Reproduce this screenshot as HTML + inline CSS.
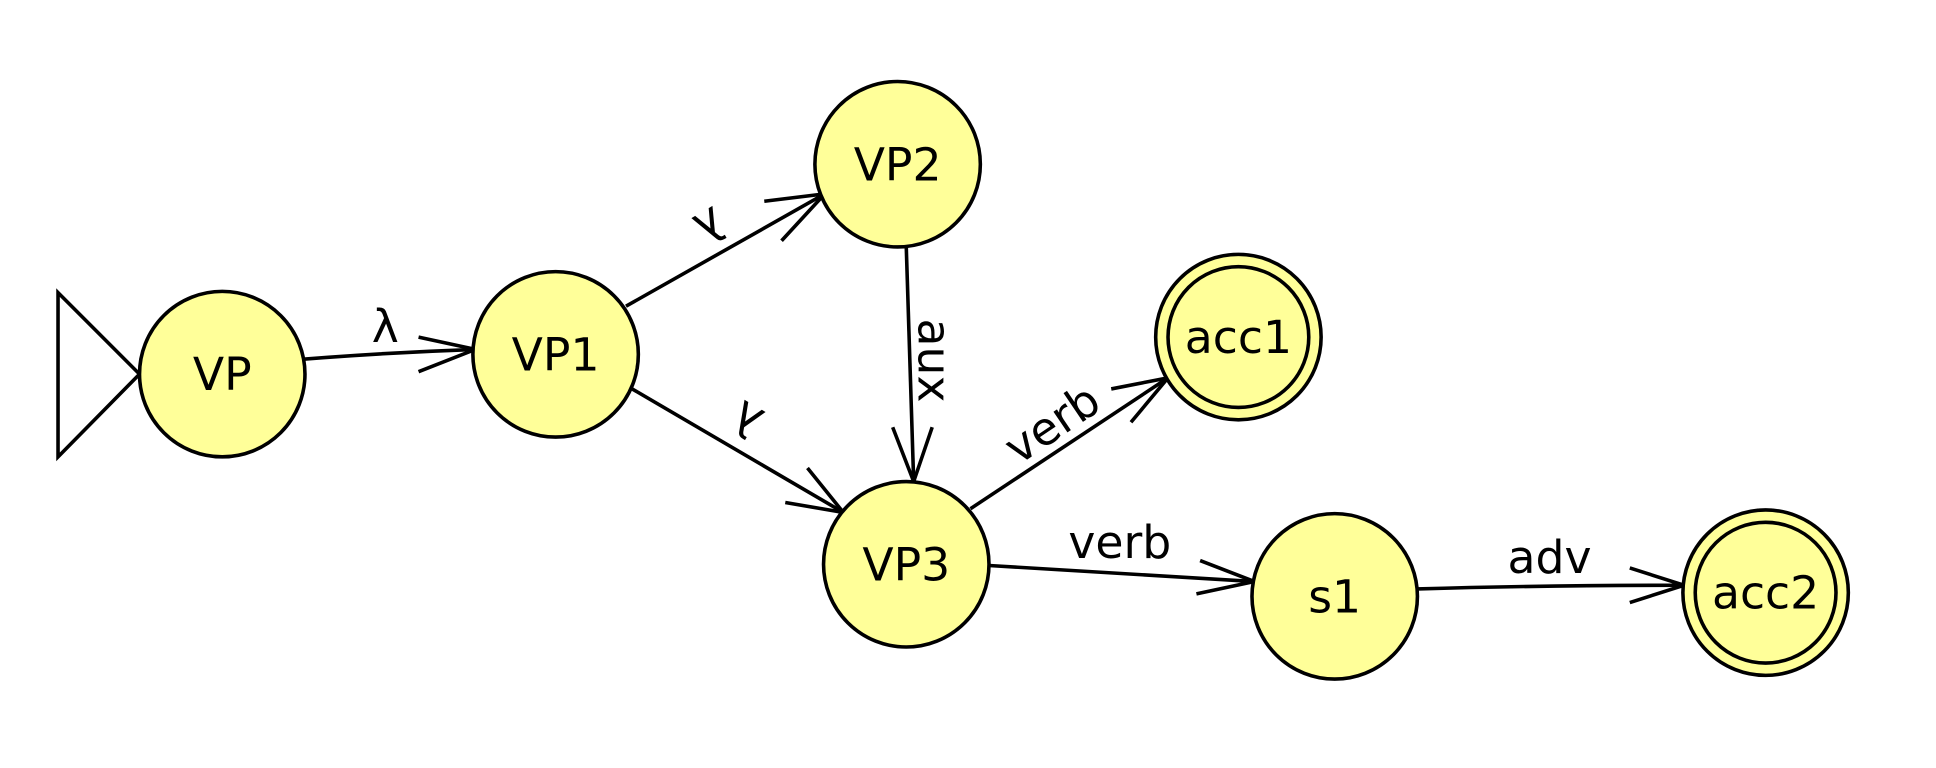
<!DOCTYPE html>
<html><head><style>html,body{margin:0;padding:0;background:#fff;}svg{display:block}</style></head>
<body>
<svg width="1936" height="768" viewBox="0 0 1568 622" preserveAspectRatio="none" xmlns="http://www.w3.org/2000/svg" font-family="DejaVu Sans, Liberation Sans, sans-serif" font-size="37">
<g fill="none" stroke="#000" stroke-width="2.9">
<polygon points="47,237 113,303 47,370" fill="#fff"/>
<path d="M220,293 Q300,286 385,283"/>
<polyline points="339,273 385,283 339,301"/>
<line x1="507" y1="248" x2="668" y2="157"/>
<polyline points="619,163 668,157 633,195"/>
<line x1="512" y1="315" x2="683" y2="415"/>
<polyline points="636,407 683,415 654,379"/>
<line x1="734" y1="200" x2="740" y2="390"/>
<polyline points="723,346 740,390 755,346"/>
<line x1="786" y1="412" x2="946" y2="306"/>
<polyline points="900,315 946,306 916,342"/>
<line x1="801" y1="458" x2="1016" y2="471"/>
<polyline points="972,454 1016,471 969,481"/>
<path d="M1148,477 Q1250,474 1364,474"/>
<polyline points="1320,460 1364,474 1320,488"/>
</g>
<g fill="#ffff99" stroke="#000" stroke-width="2.9">
<circle cx="180" cy="303" r="67"/>
<circle cx="450" cy="287" r="67"/>
<circle cx="727" cy="133" r="67"/>
<circle cx="1003" cy="273" r="67"/>
<circle cx="1003" cy="273" r="57"/>
<circle cx="734" cy="457" r="67"/>
<circle cx="1081" cy="483" r="67"/>
<circle cx="1430" cy="480" r="67"/>
<circle cx="1430" cy="480" r="57"/>
</g>
<g fill="#000" text-anchor="middle">
<text x="180" y="316">VP</text>
<text x="450" y="300">VP1</text>
<text x="727" y="146">VP2</text>
<text x="1003" y="286">acc1</text>
<text x="734" y="470">VP3</text>
<text x="1081" y="496">s1</text>
<text x="1430" y="493">acc2</text>
<text x="312" y="277">λ</text>
<text x="907" y="452">verb</text>
<text x="1255" y="464">adv</text>
<text transform="translate(575,183) rotate(150)" y="13">λ</text>
<text transform="translate(605,340) rotate(210)" y="13">λ</text>
<text transform="translate(757,292) rotate(90)" y="13">aux</text>
<text transform="translate(852,343) rotate(-34)" y="13">verb</text>
</g>
</svg>
</body></html>
